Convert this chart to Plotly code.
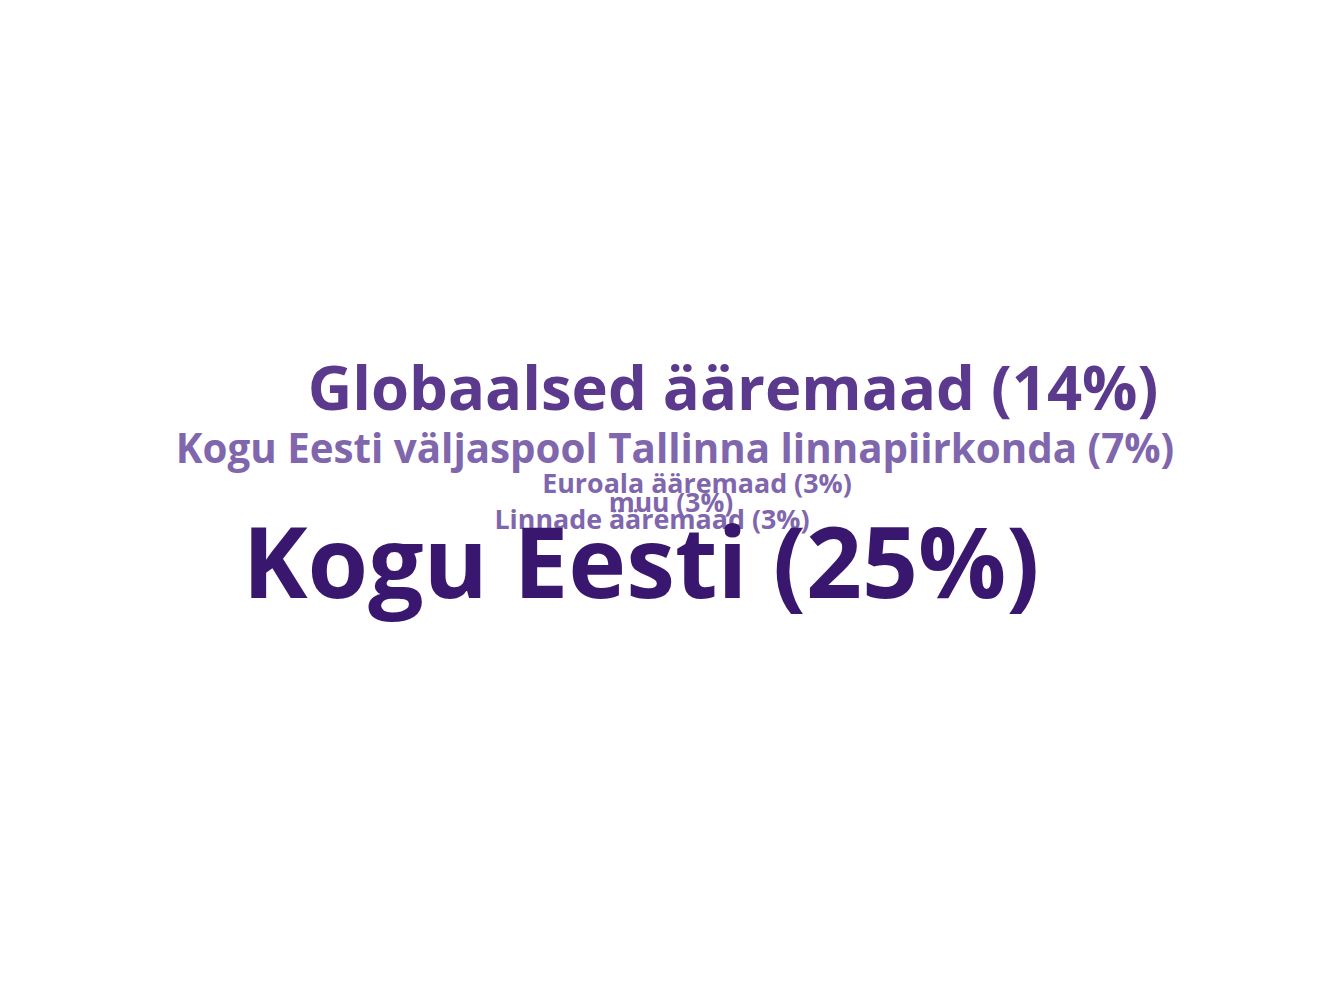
import plotly.graph_objects as go

# Word cloud data
words = [
    "Kogu Eesti",
    "Globaalsed ääremaad",
    "Kogu Eesti väljaspool Tallinna linnapiirkonda",
    "Euroala ääremaad",
    "muu",
    "Linnade ääremaad",
]
shares = [25, 14, 7, 3, 3, 3]

# Layout of the cloud (pixel positions of word centres) and styling
pos_x = [641, 733, 675, 697, 671, 652]
pos_y = [573, 395, 453, 486, 505, 522]
font_sizes = [98, 61.5, 40.3, 26.8, 26.5, 26.8]
colors = ["#39176e", "#5b3a8e", "#7f66ad", "#7f66ad", "#7f66ad", "#7f66ad"]

labels = [f"{w} ({s}%)" for w, s in zip(words, shares)]

fig = go.Figure()
order = [5, 4, 3, 2, 1, 0]
for i in order:
    fig.add_trace(go.Scatter(
        x=[pos_x[i]], y=[pos_y[i]],
        mode="text",
        text=[labels[i]],
        textposition="middle center",
        textfont=dict(family="Open Sans", size=font_sizes[i], color=colors[i], weight=700),
        hoverinfo="text",
        showlegend=False,
    ))

fig.update_layout(
    width=1344, height=1008,
    margin=dict(l=0, r=0, t=0, b=0),
    paper_bgcolor="white", plot_bgcolor="white",
    xaxis=dict(range=[0, 1344], visible=False, fixedrange=True),
    yaxis=dict(range=[1008, 0], visible=False, fixedrange=True),
)

fig.write_html("out.html")
